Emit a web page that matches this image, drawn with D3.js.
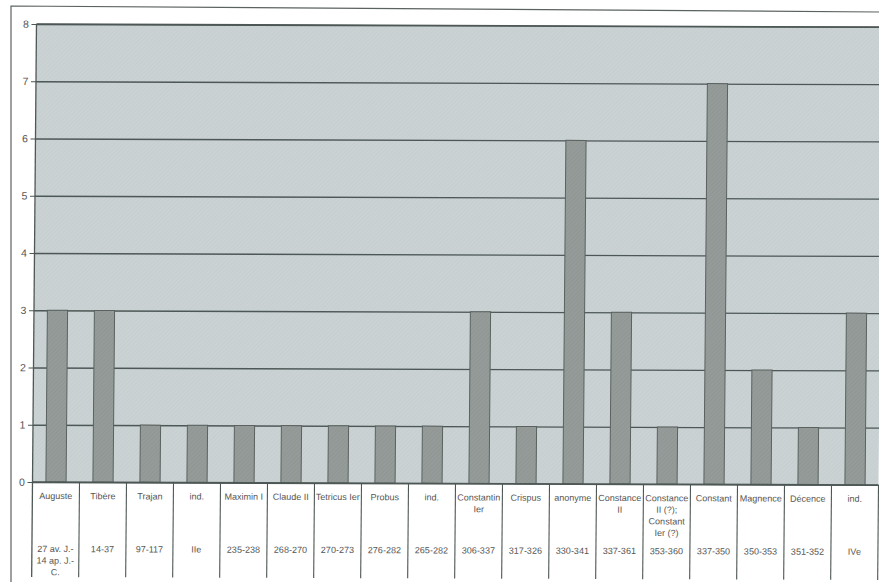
<!DOCTYPE html>
<html><head><meta charset="utf-8">
<script src="https://cdn.jsdelivr.net/npm/d3@7"></script>
<style>body{margin:0;background:#fff;overflow:hidden} svg{display:block}</style>
</head><body><svg id="c" width="879" height="582"></svg>
<script>
const names = ["Auguste","Tibère","Trajan","ind.","Maximin I","Claude II","Tetricus Ier","Probus","ind.","Constantin\nIer","Crispus","anonyme","Constance\nII","Constance\nII (?);\nConstant\nIer (?)","Constant","Magnence","Décence","ind."];
const dates = ["27 av. J.-\n14 ap. J.-\nC.","14-37","97-117","IIe","235-238","268-270","270-273","276-282","265-282","306-337","317-326","330-341","337-361","353-360","337-350","350-353","351-352","IVe"];
const values = [3,3,1,1,1,1,1,1,1,3,1,6,3,1,7,2,1,3];
const yTicks = [0,1,2,3,4,5,6,7,8];

const m = {left:32.5, top:24, zero:482, bottom:577};
const bandW = 47;
const svg = d3.select("#c");

const defs = svg.append("defs");
function hatch(id, base, line){
  const p = defs.append("pattern").attr("id",id).attr("patternUnits","userSpaceOnUse")
    .attr("width",3).attr("height",3).attr("patternTransform","rotate(45)");
  p.append("rect").attr("width",3).attr("height",3).attr("fill",base);
  p.append("line").attr("x1",0).attr("y1",0).attr("x2",0).attr("y2",3).attr("stroke",line).attr("stroke-width",1);
}
hatch("bgPat","#cad2d4","#c2cacc");
hatch("barPat","#959b99","#8c9290");

// outer frame
svg.append("path").attr("d","M11,585 L11,6 L882,12").attr("fill","none")
  .attr("stroke","#5b6361").attr("stroke-width",1.2);

const g = svg.append("g").attr("transform","matrix(1,0.0035,-0.0087,1,4.19,-0.12)");

const x = d3.scaleBand().domain(d3.range(names.length))
  .range([m.left, m.left + bandW*names.length]).padding(0);
const y = d3.scaleLinear().domain([0,8]).range([m.zero, m.top]);

// plot background
g.append("rect").attr("x",m.left).attr("y",m.top)
  .attr("width",bandW*names.length).attr("height",m.zero-m.top)
  .attr("fill","url(#bgPat)");

// gridlines
const grid = g.append("g").attr("transform",`translate(${m.left},0)`)
  .call(d3.axisLeft(y).tickValues(yTicks).tickSize(-bandW*names.length).tickFormat(""));
grid.select(".domain").remove();
grid.selectAll("line").attr("stroke","#4d5755").attr("stroke-width",1.3);

// bars
const bw = x.bandwidth()*0.43;
g.selectAll("rect.bar").data(values).join("rect").attr("class","bar")
  .attr("x",(d,i)=>x(i)+(x.bandwidth()-bw)/2)
  .attr("y",d=>y(d))
  .attr("width",bw)
  .attr("height",d=>y(0)-y(d))
  .attr("fill","url(#barPat)")
  .attr("stroke","#5a615f").attr("stroke-width",1);

// y axis
const ya = g.append("g").attr("transform",`translate(${m.left},0)`)
  .call(d3.axisLeft(y).tickValues(yTicks).tickSize(5).tickPadding(2.5).tickFormat(d3.format("d")));
ya.select(".domain").remove();
ya.selectAll("line").attr("stroke","#4d5755").attr("stroke-width",1.2);
ya.selectAll("text").attr("fill","#555").attr("font-family","Liberation Sans, Arial, sans-serif")
  .attr("font-size","10.5px");

// left border of plot & table
g.append("line").attr("x1",m.left).attr("x2",m.left).attr("y1",m.top).attr("y2",m.bottom)
  .attr("stroke","#4d5755").attr("stroke-width",1.3);
// top border
g.append("line").attr("x1",m.left).attr("x2",m.left+bandW*names.length).attr("y1",m.top).attr("y2",m.top)
  .attr("stroke","#4d5755").attr("stroke-width",1.3);
// zero line
g.append("line").attr("x1",m.left).attr("x2",m.left+bandW*names.length).attr("y1",m.zero).attr("y2",m.zero)
  .attr("stroke","#4d5755").attr("stroke-width",1.4);

// table separators
g.selectAll("line.sep").data(d3.range(1,names.length+1)).join("line").attr("class","sep")
  .attr("x1",i=>m.left+i*bandW).attr("x2",i=>m.left+i*bandW)
  .attr("y1",m.zero).attr("y2",m.bottom)
  .attr("stroke","#4d5755").attr("stroke-width",1.1);

function cellText(arr, y0){
  g.selectAll(null).data(arr).join("text")
    .attr("x",(d,i)=>x(i)+x.bandwidth()/2)
    .attr("y",y0)
    .attr("text-anchor","middle")
    .attr("fill","#555")
    .attr("font-family","Liberation Sans, Arial, sans-serif")
    .attr("font-size","9px")
    .each(function(d){
      const t = d3.select(this);
      d.split("\n").forEach((s,k)=>{
        t.append("tspan").attr("x",t.attr("x")).attr("dy",k===0?0:11.6).text(s);
      });
    });
}
cellText(names, 499);
cellText(dates, 552);
</script></body></html>
